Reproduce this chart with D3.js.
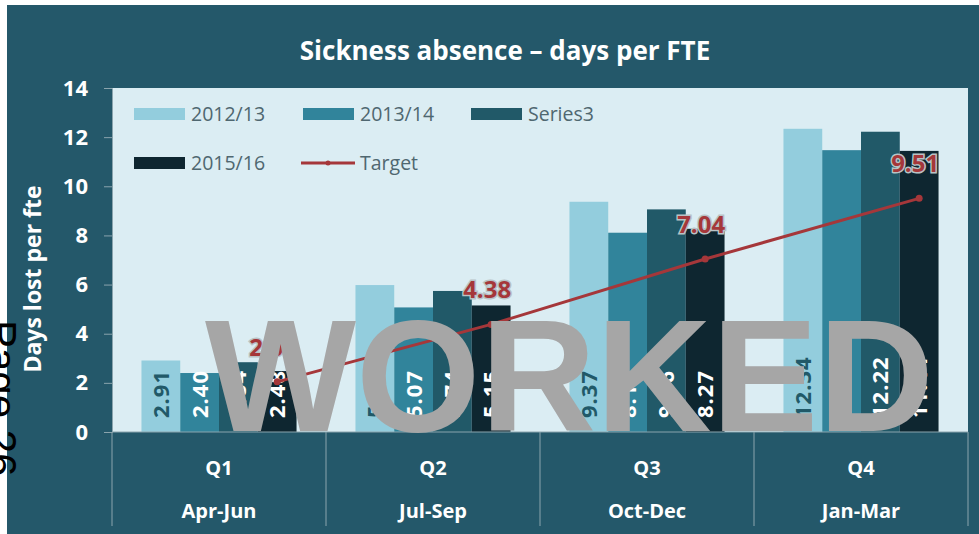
<!DOCTYPE html>
<html>
<head>
<meta charset="utf-8">
<script src="https://cdn.jsdelivr.net/npm/d3@7"></script>
<style>
  body { margin: 0; background: #ffffff; }
  svg { display: block; }
</style>
</head>
<body>
<div id="chart"></div>
<script>
var categories = ["Q1", "Q2", "Q3", "Q4"];
var periods = ["Apr-Jun", "Jul-Sep", "Oct-Dec", "Jan-Mar"];
var seriesNames = ["2012/13", "2013/14", "Series3", "2015/16"];
var s2012 = [2.91, 5.98, 9.37, 12.34];
var s2013 = [2.40, 5.07, 8.11, 11.47];
var sSeries3 = [2.84, 5.74, 9.06, 12.22];
var s2015 = [2.48, 5.15, 8.27, 11.44];
var target = [2.04, 4.38, 7.04, 9.51];
var yTicks = [0, 2, 4, 6, 8, 10, 12, 14];

(function () {
    var width = 979, height = 534;
    var plot = { left: 112, right: 968, top: 88, bottom: 432 };
    var colors = ["#93cddd", "#31849b", "#215968", "#0e2630"];
    var labelColors = ["#215968", "#ffffff", "#ffffff", "#ffffff"];
    var panel = "#24586a";
    var font = "'Open Sans', sans-serif";

    var seriesValues = [s2012, s2013, sSeries3, s2015];

    var svg = d3.select("#chart").append("svg")
        .attr("width", width)
        .attr("height", height);

    // dark panel behind everything
    svg.append("rect")
        .attr("x", 7).attr("y", 5)
        .attr("width", width - 7).attr("height", height - 5)
        .attr("fill", panel);

    // light plot area
    svg.append("rect")
        .attr("x", plot.left).attr("y", plot.top)
        .attr("width", plot.right - plot.left)
        .attr("height", plot.bottom - plot.top)
        .attr("fill", "#dbedf3");

    var x = d3.scaleBand()
        .domain(categories)
        .range([plot.left, plot.right]);

    var xSub = d3.scaleBand()
        .domain(seriesNames)
        .range([0, x.bandwidth()])
        .paddingOuter(0.76);

    var y = d3.scaleLinear()
        .domain([0, 14])
        .range([plot.bottom, plot.top]);

    // title
    svg.append("text")
        .text("Sickness absence \u2013 days per FTE")
        .attr("x", 505).attr("y", 60)
        .attr("text-anchor", "middle")
        .attr("font-family", font)
        .attr("font-weight", "bold")
        .attr("font-size", 26)
        .attr("fill", "#ffffff");

    // y axis
    var yAxis = svg.append("g")
        .attr("transform", "translate(" + plot.left + ",0)")
        .call(d3.axisLeft(y).tickValues(yTicks).tickSize(8).tickPadding(16));
    yAxis.select(".domain").attr("stroke", "#8aa4ad");
    yAxis.selectAll(".tick line").attr("stroke", "#8aa4ad");
    yAxis.selectAll(".tick text")
        .attr("font-family", font)
        .attr("font-weight", "bold")
        .attr("font-size", 22)
        .attr("fill", "#ffffff");

    svg.append("text")
        .text("Days lost per fte")
        .attr("transform", "translate(41," + 279 + ") rotate(-90)")
        .attr("text-anchor", "middle")
        .attr("font-family", font)
        .attr("font-weight", "bold")
        .attr("font-size", 23)
        .attr("fill", "#ffffff");

    // bars
    var groups = svg.selectAll("g.series")
        .data(seriesNames)
        .enter().append("g")
        .attr("class", "series");

    groups.each(function (name, si) {
        var g = d3.select(this);
        g.selectAll("rect")
            .data(seriesValues[si])
            .enter().append("rect")
            .attr("x", (d, i) => x(categories[i]) + xSub(name))
            .attr("y", d => y(d))
            .attr("width", xSub.bandwidth())
            .attr("height", d => y(0) - y(d))
            .attr("fill", colors[si]);
    });

    groups.each(function (name, si) {
        var g = d3.select(this);
        g.selectAll("text")
            .data(seriesValues[si])
            .enter().append("text")
            .text(d => d.toFixed(2))
            .attr("transform", (d, i) => "translate(" +
                (x(categories[i]) + xSub(name) + xSub.bandwidth() / 2) + "," +
                (y(0) - 14) + ") rotate(-90)")
            .attr("dy", "0.36em")
            .attr("font-family", font)
            .attr("font-weight", "bold")
            .attr("font-size", 22)
            .attr("letter-spacing", 1)
            .attr("fill", labelColors[si]);
    });

    // target line
    var tx = (d, i) => x(categories[i]) + xSub(seriesNames[3]) + xSub.bandwidth() / 2;
    var line = d3.line()
        .x(tx)
        .y(d => y(d));

    svg.append("path")
        .datum(target)
        .attr("d", line)
        .attr("fill", "none")
        .attr("stroke", "#a5373a")
        .attr("stroke-width", 3);

    svg.selectAll("circle.target")
        .data(target)
        .enter().append("circle")
        .attr("class", "target")
        .attr("cx", tx)
        .attr("cy", d => y(d))
        .attr("r", 3.5)
        .attr("fill", "#a5373a");

    svg.selectAll("text.target")
        .data(target)
        .enter().append("text")
        .attr("class", "target")
        .text(d => d.toFixed(2))
        .attr("x", (d, i) => tx(d, i) - 4)
        .attr("y", d => y(d) - 26)
        .attr("text-anchor", "middle")
        .attr("font-family", font)
        .attr("font-weight", "bold")
        .attr("font-size", 24)
        .attr("fill", "#a5373a")
        .attr("stroke", "#b9c3c6")
        .attr("stroke-width", 3)
        .attr("paint-order", "stroke");

    // legend
    var legendItems = [
        { name: seriesNames[0], kind: "bar", color: colors[0], x: 134, y: 114 },
        { name: seriesNames[1], kind: "bar", color: colors[1], x: 303, y: 114 },
        { name: seriesNames[2], kind: "bar", color: colors[2], x: 471, y: 114 },
        { name: seriesNames[3], kind: "bar", color: colors[3], x: 134, y: 163 },
        { name: "Target", kind: "line", color: "#a5373a", x: 301, y: 163 }
    ];
    var legend = svg.selectAll("g.legend")
        .data(legendItems)
        .enter().append("g")
        .attr("class", "legend")
        .attr("transform", d => "translate(" + d.x + "," + d.y + ")");

    legend.filter(d => d.kind === "bar").append("rect")
        .attr("x", 0).attr("y", -6)
        .attr("width", 51).attr("height", 12)
        .attr("fill", d => d.color);

    legend.filter(d => d.kind === "line").append("line")
        .attr("x1", 0).attr("x2", 54)
        .attr("y1", 0).attr("y2", 0)
        .attr("stroke", d => d.color)
        .attr("stroke-width", 3);
    legend.filter(d => d.kind === "line").append("circle")
        .attr("cx", 27).attr("cy", 0).attr("r", 2.5)
        .attr("fill", d => d.color);

    legend.append("text")
        .text(d => d.name)
        .attr("x", d => d.kind === "line" ? 59 : 57)
        .attr("y", 0)
        .attr("dy", "0.36em")
        .attr("font-family", font)
        .attr("font-size", 19.5)
        .attr("fill", "#4f6770");

    // category axis below plot
    svg.append("line")
        .attr("x1", plot.left).attr("x2", plot.right)
        .attr("y1", plot.bottom).attr("y2", plot.bottom)
        .attr("stroke", "#8aa4ad");

    var bounds = categories.map(c => x(c)).concat([plot.right]);
    svg.selectAll("line.divider")
        .data(bounds)
        .enter().append("line")
        .attr("class", "divider")
        .attr("x1", d => d).attr("x2", d => d)
        .attr("y1", plot.bottom).attr("y2", 526)
        .attr("stroke", "#8aa4ad");

    svg.selectAll("text.cat")
        .data(categories)
        .enter().append("text")
        .attr("class", "cat")
        .text(d => d)
        .attr("x", d => x(d) + x.bandwidth() / 2)
        .attr("y", 475)
        .attr("text-anchor", "middle")
        .attr("font-family", font)
        .attr("font-weight", "bold")
        .attr("font-size", 20)
        .attr("fill", "#ffffff");

    svg.selectAll("text.period")
        .data(periods)
        .enter().append("text")
        .attr("class", "period")
        .text(d => d)
        .attr("x", (d, i) => x(categories[i]) + x.bandwidth() / 2)
        .attr("y", 518)
        .attr("text-anchor", "middle")
        .attr("font-family", font)
        .attr("font-weight", "bold")
        .attr("font-size", 20)
        .attr("fill", "#ffffff");

    // page number on the left edge
    svg.append("text")
        .text("Page 26")
        .attr("transform", "translate(-13,320) rotate(90)")
        .attr("font-family", "'Liberation Sans', Arial, sans-serif")
        .attr("font-size", 42)
        .attr("fill", "#000000");

    // watermark
    svg.append("text")
        .text("WORKED")
        .attr("x", 205)
        .attr("y", 431)
        .attr("font-family", "'Liberation Sans', Arial, sans-serif")
        .attr("font-weight", "bold")
        .attr("font-size", 160)
        .attr("fill", "#a6a6a6");
})();
</script>
</body>
</html>
